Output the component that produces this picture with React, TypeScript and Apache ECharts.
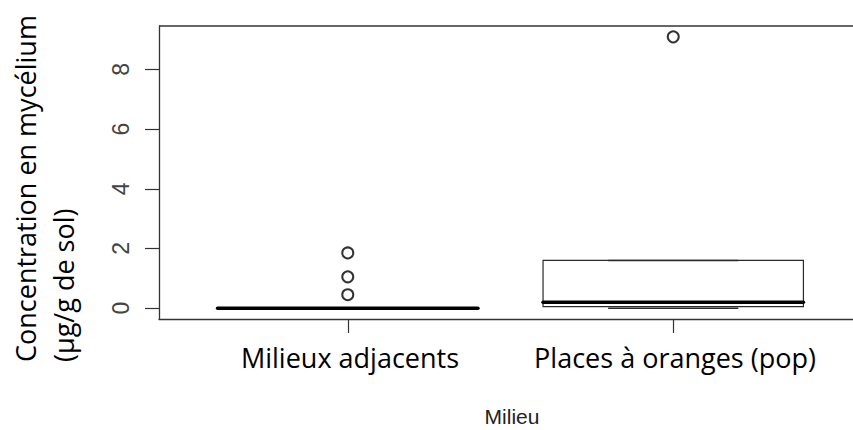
import React, { useEffect, useRef } from "react";
import * as echarts from "echarts";

const categories = ["Milieux adjacents", "Places à oranges (pop)"];
const lowerWhisker = [0, 0];
const q1Values = [0, 0.05];
const medianValues = [0, 0.2];
const q3Values = [0, 1.6];
const upperWhisker = [0, 1.6];
const outlierGroup = [0, 0, 0, 1];
const outlierValues = [1.85, 1.05, 0.45, 9.09];
const yTicks = [0, 2, 4, 6, 8];
const xTicks = [0, 1];
const xTitle = "Milieu";
const yTitleLines = ["Concentration en mycélium", "(µg/g de sol)"];

export default function App() {
  const ref = useRef<HTMLDivElement>(null);
  useEffect(() => {
    const chart = echarts.init(ref.current!, null, { renderer: "svg" });
    const boxData = categories.map((_, i) => [
      i,
      lowerWhisker[i],
      q1Values[i],
      medianValues[i],
      q3Values[i],
      upperWhisker[i],
    ]);
    const outliers = outlierGroup.map((g, i) => [g, outlierValues[i]]);
    const stroke = "#2a2a2a";
    const frameStyle = { color: "#333", width: 1.3 };
    const xMin = -0.58;
    const xMax = 1.58;
    chart.setOption({
      animation: false,
      grid: {
        left: 159,
        top: 26,
        height: 293,
        width: 703,
        containLabel: false,
        show: false,
      },
      xAxis: [
        {
          type: "value",
          position: "bottom",
          min: xMin,
          max: xMax,
          splitLine: { show: false },
          axisLine: { show: true, onZero: false, lineStyle: frameStyle },
          axisTick: {
            show: true,
            length: 14,
            inside: false,
            customValues: xTicks,
            lineStyle: { color: "#333", width: 1.2 },
          },
          axisLabel: { show: false },
        },
      ],
      yAxis: {
        type: "value",
        min: -0.3636,
        max: 9.4536,
        splitLine: { show: false },
        axisLine: { show: true, onZero: false, lineStyle: frameStyle },
        axisTick: {
          show: true,
          length: 14,
          inside: false,
          customValues: yTicks,
          lineStyle: { color: "#333", width: 1.2 },
        },
        axisLabel: {
          show: true,
          customValues: yTicks,
          rotate: 90,
          margin: 27,
          fontFamily: "Liberation Sans",
          fontSize: 23,
          color: "#444",
        },
      },
      series: [
        {
          type: "custom",
          data: boxData,
          clip: false,
          renderItem: (params: any, api: any) => {
            const x = api.value(0);
            const lo = api.value(1);
            const q1 = api.value(2);
            const med = api.value(3);
            const q3 = api.value(4);
            const hi = api.value(5);
            const w = 0.4;
            const sw = 0.2;
            const pL = api.coord([x - w, q1]);
            const pR = api.coord([x + w, q3]);
            const pMedL = api.coord([x - w, med]);
            const pMedR = api.coord([x + w, med]);
            const pLoL = api.coord([x - sw, lo]);
            const pLoR = api.coord([x + sw, lo]);
            const pHiL = api.coord([x - sw, hi]);
            const pHiR = api.coord([x + sw, hi]);
            return {
              type: "group",
              children: [
                {
                  type: "line",
                  shape: { x1: pHiL[0], y1: pHiL[1], x2: pHiR[0], y2: pHiR[1] },
                  style: { stroke, lineWidth: 1.5 },
                },
                {
                  type: "line",
                  shape: { x1: pLoL[0], y1: pLoL[1], x2: pLoR[0], y2: pLoR[1] },
                  style: { stroke, lineWidth: 1.5 },
                },
                {
                  type: "rect",
                  shape: {
                    x: pL[0],
                    y: pR[1],
                    width: pR[0] - pL[0],
                    height: pL[1] - pR[1],
                  },
                  style: { stroke, lineWidth: 1.2, fill: "transparent" },
                },
                {
                  type: "line",
                  shape: { x1: pMedL[0], y1: pMedL[1], x2: pMedR[0], y2: pMedR[1] },
                  style: { stroke: "#000", lineWidth: 3.5, lineCap: "round" },
                },
              ],
            };
          },
        },
        {
          type: "scatter",
          data: outliers,
          symbol: "emptyCircle",
          symbolSize: 11,
          itemStyle: { color: "#000", borderColor: "#111", borderWidth: 1.4 },
        },
      ],
      graphic: [
        {
          type: "line",
          shape: { x1: 159, y1: 26, x2: 900, y2: 26 },
          style: { stroke: "#333", lineWidth: 1.3 },
        },
        {
          type: "text",
          x: 350,
          y: 357,
          style: {
            text: categories[0],
            fontFamily: "Open Sans",
            fontSize: 27,
            fill: "#000",
            align: "center",
            verticalAlign: "middle",
          },
        },
        {
          type: "text",
          x: 675,
          y: 357,
          style: {
            text: categories[1],
            fontFamily: "Open Sans",
            fontSize: 27,
            fill: "#000",
            align: "center",
            verticalAlign: "middle",
          },
        },
        {
          type: "text",
          x: 512,
          y: 416,
          style: {
            text: xTitle,
            fontFamily: "Liberation Sans",
            fontSize: 21,
            fill: "#222",
            align: "center",
            verticalAlign: "middle",
          },
        },
        {
          type: "text",
          x: 25,
          y: 362,
          rotation: Math.PI / 2,
          style: {
            text: yTitleLines[0],
            fontFamily: "Open Sans",
            fontSize: 27,
            fill: "#000",
            align: "left",
            verticalAlign: "middle",
          },
        },
        {
          type: "text",
          x: 63,
          y: 362,
          rotation: Math.PI / 2,
          style: {
            text: yTitleLines[1],
            fontFamily: "Open Sans",
            fontSize: 27,
            fill: "#000",
            align: "left",
            verticalAlign: "middle",
          },
        },
      ],
    });
    return () => chart.dispose();
  }, []);
  return (
    <div
      style={{
        position: "fixed",
        left: 0,
        top: 0,
        width: 853,
        height: 430,
        overflow: "hidden",
        background: "#fff",
      }}
    >
      <div ref={ref} style={{ width: 900, height: 430 }} />
    </div>
  );
}
